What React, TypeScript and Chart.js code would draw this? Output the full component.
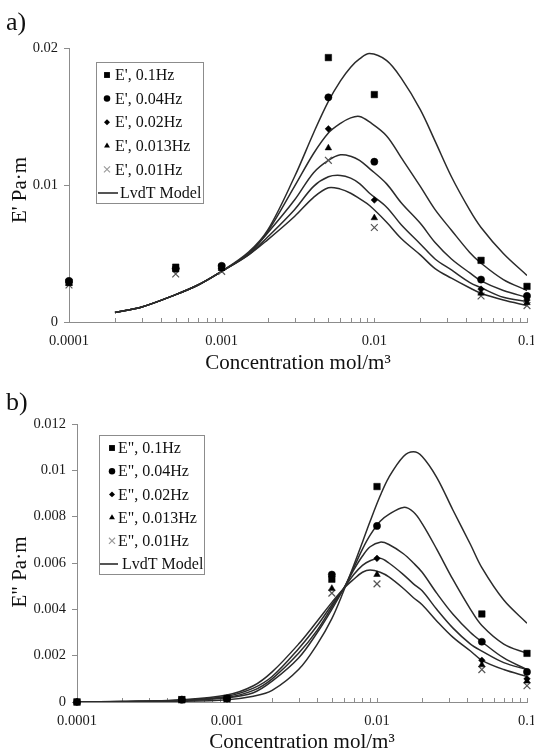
import React, { useEffect, useRef } from 'react';
import { Chart, registerables } from 'chart.js';

Chart.register(...registerables);

const FONT = "'Liberation Serif', 'Times New Roman', 'DejaVu Serif', serif";
Chart.defaults.font.family = FONT;

// ---------- data ----------
const measuredConc = [0.0001, 0.0005, 0.001, 0.005, 0.01, 0.05, 0.1];
const freqLabels = ['0.1Hz', '0.04Hz', '0.02Hz', '0.013Hz', '0.01Hz'];

// E' (storage) measured
const eStore01 = [0.0029, 0.0040, 0.0040, 0.0193, 0.0166, 0.0045, 0.0026];
const eStore004 = [0.0030, 0.0039, 0.0041, 0.0164, 0.0117, 0.0031, 0.0019];
const eStore002 = [0.0029, 0.0039, 0.0039, 0.0141, 0.0089, 0.0024, 0.0016];
const eStore0013 = [0.0028, 0.0038, 0.0039, 0.0127, 0.0076, 0.0021, 0.0014];
const eStore001 = [0.0027, 0.0035, 0.0037, 0.0118, 0.0069, 0.0019, 0.0012];

// E' LvdT model curves
const topModelConc = [0.0002, 0.0003, 0.0005, 0.0007, 0.001, 0.0015, 0.002, 0.003, 0.004, 0.005, 0.006, 0.007, 0.008, 0.0093, 0.012, 0.015, 0.02, 0.025, 0.032, 0.042, 0.05, 0.07, 0.1];
const topModel01 = [0.0007, 0.0011, 0.0020, 0.0027, 0.0037, 0.0051, 0.0067, 0.0106, 0.0138, 0.0161, 0.0176, 0.0186, 0.0192, 0.0196, 0.0191, 0.0178, 0.0155, 0.0132, 0.0106, 0.0082, 0.0069, 0.0050, 0.0034];
const topModel004 = [0.0007, 0.0011, 0.0020, 0.0027, 0.0037, 0.0050, 0.0066, 0.0099, 0.0123, 0.0138, 0.0145, 0.0149, 0.0150, 0.0146, 0.0136, 0.0120, 0.0099, 0.0082, 0.0067, 0.0051, 0.0043, 0.0031, 0.0023];
const topModel002 = [0.0007, 0.0011, 0.0020, 0.0027, 0.0037, 0.0050, 0.0065, 0.0089, 0.0109, 0.0118, 0.0122, 0.0121, 0.0118, 0.0112, 0.0101, 0.0087, 0.0072, 0.0058, 0.0046, 0.0036, 0.0030, 0.0023, 0.0018];
const topModel0013 = [0.0007, 0.0011, 0.0020, 0.0027, 0.0037, 0.0049, 0.0062, 0.0082, 0.0099, 0.0106, 0.0107, 0.0105, 0.0101, 0.0094, 0.0084, 0.0071, 0.0057, 0.0046, 0.0038, 0.0029, 0.0025, 0.0018, 0.0015];
const topModel001 = [0.0007, 0.0011, 0.0020, 0.0027, 0.0037, 0.0049, 0.0060, 0.0077, 0.0091, 0.0098, 0.0097, 0.0094, 0.0090, 0.0085, 0.0073, 0.0061, 0.0049, 0.0039, 0.0032, 0.0025, 0.0021, 0.0016, 0.0012];

// E" (loss) measured
const eLoss01 = [0, 0.0001, 0.00015, 0.0053, 0.0093, 0.0038, 0.0021];
const eLoss004 = [0, 0.0001, 0.00015, 0.0055, 0.0076, 0.0026, 0.0013];
const eLoss002 = [0, 0.0001, 0.00015, 0.0054, 0.0062, 0.0018, 0.0010];
const eLoss0013 = [0, 0.0001, 0.00015, 0.0049, 0.0055, 0.0016, 0.0009];
const eLoss001 = [0, 0.0001, 0.00012, 0.0047, 0.0051, 0.0014, 0.0007];

// E" LvdT model curves
const botModelConc = [0.0001, 0.0002, 0.0005, 0.001, 0.0015, 0.002, 0.003, 0.004, 0.005, 0.006, 0.007, 0.008, 0.009, 0.0105, 0.012, 0.015, 0.0175, 0.02, 0.025, 0.032, 0.042, 0.05, 0.07, 0.1];
const botModel01 = [0, 0.00001, 0.00003, 0.0001, 0.00025, 0.0005, 0.0014, 0.0025, 0.0036, 0.0048, 0.0059, 0.0069, 0.0078, 0.0089, 0.0097, 0.0106, 0.0108, 0.0106, 0.0097, 0.0083, 0.0068, 0.0058, 0.0044, 0.0034];
const botModel004 = [0, 0.00001, 0.00006, 0.00018, 0.0004, 0.0009, 0.0019, 0.0030, 0.0040, 0.0049, 0.0058, 0.0066, 0.0072, 0.0078, 0.0081, 0.0084, 0.0082, 0.0077, 0.0066, 0.0053, 0.0040, 0.0033, 0.0025, 0.0021];
const botModel002 = [0, 0.00002, 0.00007, 0.0002, 0.0005, 0.0010, 0.0021, 0.0031, 0.0041, 0.0049, 0.0057, 0.0063, 0.0067, 0.0069, 0.0068, 0.0064, 0.0060, 0.0056, 0.0047, 0.0038, 0.0030, 0.0026, 0.0019, 0.0014];
const botModel0013 = [0, 0.00002, 0.00008, 0.00025, 0.0006, 0.0011, 0.0023, 0.0033, 0.0042, 0.0049, 0.0055, 0.0059, 0.0061, 0.0062, 0.0060, 0.0055, 0.0051, 0.0048, 0.0040, 0.0032, 0.0025, 0.0022, 0.0017, 0.0014];
const botModel001 = [0, 0.00002, 0.0001, 0.0003, 0.0007, 0.0013, 0.0025, 0.0035, 0.0043, 0.0049, 0.0053, 0.0056, 0.0057, 0.0056, 0.0054, 0.0049, 0.0045, 0.0042, 0.0035, 0.0028, 0.0022, 0.0018, 0.0014, 0.0011];

// ticks
const xMajorTicks = [0.0001, 0.001, 0.01, 0.1];
const xMajorLabels = ['0.0001', '0.001', '0.01', '0.1'];
const xMinorSteps = [2, 3, 4, 5, 6, 7, 8, 9];
const topYTicks = [0, 0.01, 0.02];
const topYLabels = ['0', '0.01', '0.02'];
const botYTicks = [0, 0.002, 0.004, 0.006, 0.008, 0.01, 0.012];
const botYLabels = ['0', '0.002', '0.004', '0.006', '0.008', '0.01', '0.012'];

// ---------- styles ----------
const markerStyles = [
  { style: 'rect', radius: 4.6, color: '#000', legendColor: '#000' },
  { style: 'circle', radius: 3.6, color: '#000', legendColor: '#000' },
  { style: 'rectRot', radius: 3.3, color: '#000', legendColor: '#000' },
  { style: 'triangle', radius: 3.8, color: '#000', legendColor: '#000' },
  { style: 'crossRot', radius: 4.8, color: '#555', legendColor: '#999' },
];
const LINE_COLOR = '#2b2b2b';
const AXIS_COLOR = '#8c8c8c';

function drawMarker(ctx: CanvasRenderingContext2D, style: string, x: number, y: number, r: number, color: string) {
  ctx.save();
  ctx.fillStyle = color;
  ctx.strokeStyle = color;
  ctx.beginPath();
  if (style === 'rect') {
    const s = r * Math.SQRT1_2;
    ctx.rect(x - s, y - s, 2 * s, 2 * s);
    ctx.fill();
  } else if (style === 'circle') {
    ctx.arc(x, y, r, 0, Math.PI * 2);
    ctx.fill();
  } else if (style === 'rectRot') {
    ctx.moveTo(x - r, y);
    ctx.lineTo(x, y - r);
    ctx.lineTo(x + r, y);
    ctx.lineTo(x, y + r);
    ctx.closePath();
    ctx.fill();
  } else if (style === 'triangle') {
    ctx.moveTo(x, y - r);
    ctx.lineTo(x + r * 0.866, y + r * 0.5);
    ctx.lineTo(x - r * 0.866, y + r * 0.5);
    ctx.closePath();
    ctx.fill();
  } else {
    const d = r * Math.SQRT1_2;
    ctx.lineWidth = 1.1;
    ctx.moveTo(x - d, y - d);
    ctx.lineTo(x + d, y + d);
    ctx.moveTo(x + d, y - d);
    ctx.lineTo(x - d, y + d);
    ctx.stroke();
  }
  ctx.restore();
}

type PanelCfg = {
  height: number;
  yAxisWidth: number;
  xAxisHeight: number;
  padTop: number;
  yMax: number;
  yTicks: number[];
  yLabels: string[];
  yTitle: string;
  yTitleX: number;
  yTitleY: number;
  panelLabel: string;
  panelLabelY: number;
  xTitlePadBottom: number;
  prefix: string;
  measured: number[][];
  modelConc: number[];
  models: number[][];
  legend: { x: number; y: number; w: number; h: number; first: number; gap: number; markerX: number; textX: number; lineX0: number; lineX1: number; lineTextX: number };
};

function makeDecor(cfg: PanelCfg) {
  return {
    id: 'decor',
    beforeDatasetsDraw(chart: any) {
      const xs = chart.scales.x;
      const area = chart.chartArea;
      const ctx: CanvasRenderingContext2D = chart.ctx;
      ctx.save();
      ctx.strokeStyle = AXIS_COLOR;
      ctx.lineWidth = 1;
      xMajorTicks.forEach((major, i) => {
        const vals = [major].concat(i < xMajorTicks.length - 1 ? xMinorSteps.map((m) => major * m) : []);
        vals.forEach((v) => {
          const px = Math.round(xs.getPixelForValue(v)) + 0.5;
          ctx.beginPath();
          ctx.moveTo(px, area.bottom);
          ctx.lineTo(px, area.bottom - 4);
          ctx.stroke();
        });
      });
      ctx.restore();
    },
    afterDraw(chart: any) {
      const ctx: CanvasRenderingContext2D = chart.ctx;
      const L = cfg.legend;
      ctx.save();
      ctx.fillStyle = '#fff';
      ctx.fillRect(L.x, L.y, L.w, L.h);
      ctx.strokeStyle = AXIS_COLOR;
      ctx.lineWidth = 1;
      ctx.strokeRect(L.x + 0.5, L.y + 0.5, L.w, L.h);
      ctx.font = `16px ${FONT}`;
      ctx.textBaseline = 'middle';
      ctx.textAlign = 'left';
      ctx.fillStyle = '#111';
      freqLabels.forEach((f, i) => {
        const cy = L.y + L.first + i * L.gap;
        const ms = markerStyles[i];
        drawMarker(ctx, ms.style, L.x + L.markerX, cy, ms.radius * 0.9, ms.legendColor);
        ctx.fillStyle = '#111';
        ctx.fillText(`${cfg.prefix}, ${f}`, L.x + L.textX, cy + 1);
      });
      const cyLine = L.y + L.first + freqLabels.length * L.gap;
      ctx.strokeStyle = LINE_COLOR;
      ctx.lineWidth = 1.6;
      ctx.beginPath();
      ctx.moveTo(L.x + L.lineX0, cyLine);
      ctx.lineTo(L.x + L.lineX1, cyLine);
      ctx.stroke();
      ctx.fillStyle = '#111';
      ctx.fillText('LvdT Model', L.x + L.lineTextX, cyLine + 1);

      ctx.save();
      ctx.translate(cfg.yTitleX, cfg.yTitleY);
      ctx.rotate(-Math.PI / 2);
      ctx.textAlign = 'center';
      ctx.textBaseline = 'middle';
      ctx.font = `21px ${FONT}`;
      ctx.fillStyle = '#111';
      ctx.fillText(cfg.yTitle, 0, 0);
      ctx.restore();

      ctx.font = `26px ${FONT}`;
      ctx.textAlign = 'left';
      ctx.textBaseline = 'alphabetic';
      ctx.fillStyle = '#111';
      ctx.fillText(cfg.panelLabel, 6, cfg.panelLabelY);
      ctx.restore();
    },
  };
}

function Panel({ cfg }: { cfg: PanelCfg }) {
  const ref = useRef<HTMLCanvasElement>(null);
  useEffect(() => {
    const canvas = ref.current!;
    const datasets: any[] = [];
    cfg.measured.forEach((vals, i) => {
      const ms = markerStyles[i];
      datasets.push({
        label: `${cfg.prefix}, ${freqLabels[i]}`,
        data: measuredConc.map((x, j) => ({ x, y: vals[j] })),
        showLine: false,
        pointStyle: ms.style,
        pointRadius: ms.radius,
        pointBackgroundColor: ms.color,
        pointBorderColor: ms.color,
        pointBorderWidth: ms.style === 'crossRot' ? 1.2 : 0.5,
        clip: false,
        order: 0,
      });
    });
    cfg.models.forEach((vals, i) => {
      datasets.push({
        label: `LvdT Model ${freqLabels[i]}`,
        data: cfg.modelConc.map((x, j) => ({ x, y: vals[j] })),
        showLine: true,
        borderColor: LINE_COLOR,
        borderWidth: 1.5,
        pointRadius: 0,
        fill: false,
        tension: 0.35,
        order: 1,
      });
    });

    const chart = new Chart(canvas, {
      type: 'line',
      data: { datasets },
      options: {
        responsive: false,
        animation: false,
        devicePixelRatio: 1,
        layout: { padding: { top: cfg.padTop, right: 7, left: 0, bottom: 0 } },
        plugins: { legend: { display: false }, tooltip: { enabled: false } },
        scales: {
          x: {
            type: 'logarithmic',
            min: 0.0001,
            max: 0.1,
            afterBuildTicks: (s: any) => {
              s.ticks = xMajorTicks.map((v) => ({ value: v }));
            },
            afterFit: (s: any) => {
              s.height = cfg.xAxisHeight;
              s.paddingLeft = 0;
              s.paddingRight = 0;
            },
            ticks: {
              autoSkip: false,
              maxRotation: 0,
              padding: 10,
              color: '#1a1a1a',
              font: { size: 14.5, family: FONT },
              callback: (_v: any, i: number) => xMajorLabels[i],
            },
            grid: { display: true, drawOnChartArea: false, drawTicks: false, color: AXIS_COLOR },
            border: { display: true, color: AXIS_COLOR, width: 1 },
            title: {
              display: true,
              text: 'Concentration mol/m³',
              color: '#111',
              font: { size: 21, family: FONT },
              padding: { top: 0, bottom: cfg.xTitlePadBottom },
            },
          },
          y: {
            type: 'linear',
            min: 0,
            max: cfg.yMax,
            afterBuildTicks: (s: any) => {
              s.ticks = cfg.yTicks.map((v) => ({ value: v }));
            },
            afterFit: (s: any) => {
              s.width = cfg.yAxisWidth;
              s.paddingTop = 0;
              s.paddingBottom = 0;
            },
            ticks: {
              padding: 6,
              color: '#1a1a1a',
              font: { size: 14.5, family: FONT },
              callback: (_v: any, i: number) => cfg.yLabels[i],
            },
            grid: { display: true, drawOnChartArea: false, drawTicks: true, tickLength: 5, color: AXIS_COLOR },
            border: { display: true, color: AXIS_COLOR, width: 1 },
          },
        },
      } as any,
      plugins: [makeDecor(cfg) as any],
    });
    return () => chart.destroy();
  }, [cfg]);
  return <canvas ref={ref} width={534} height={cfg.height} style={{ display: 'block', width: 534, height: cfg.height }} />;
}

const topCfg: PanelCfg = {
  height: 378,
  yAxisWidth: 69,
  xAxisHeight: 56,
  padTop: 48,
  yMax: 0.02,
  yTicks: topYTicks,
  yLabels: topYLabels,
  yTitle: "E' Pa·m",
  yTitleX: 20,
  yTitleY: 190,
  panelLabel: 'a)',
  panelLabelY: 30,
  xTitlePadBottom: 2,
  prefix: "E'",
  measured: [eStore01, eStore004, eStore002, eStore0013, eStore001],
  modelConc: topModelConc,
  models: [topModel01, topModel004, topModel002, topModel0013, topModel001],
  legend: { x: 96, y: 62, w: 107, h: 141, first: 13, gap: 23.6, markerX: 11, textX: 19, lineX0: 2, lineX1: 22, lineTextX: 24 },
};

const botCfg: PanelCfg = {
  height: 377,
  yAxisWidth: 77,
  xAxisHeight: 53,
  padTop: 46,
  yMax: 0.012,
  yTicks: botYTicks,
  yLabels: botYLabels,
  yTitle: 'E" Pa·m',
  yTitleX: 20,
  yTitleY: 194,
  panelLabel: 'b)',
  panelLabelY: 32,
  xTitlePadBottom: 0,
  prefix: 'E"',
  measured: [eLoss01, eLoss004, eLoss002, eLoss0013, eLoss001],
  modelConc: botModelConc,
  models: [botModel01, botModel004, botModel002, botModel0013, botModel001],
  legend: { x: 99, y: 57, w: 105, h: 139, first: 13, gap: 23.2, markerX: 13, textX: 19, lineX0: 1, lineX1: 19, lineTextX: 23 },
};

export default function App() {
  return (
    <div style={{ position: 'absolute', left: 0, top: 0, width: 534, height: 755, overflow: 'hidden', background: '#fff' }}>
      <Panel cfg={topCfg} />
      <Panel cfg={botCfg} />
    </div>
  );
}
